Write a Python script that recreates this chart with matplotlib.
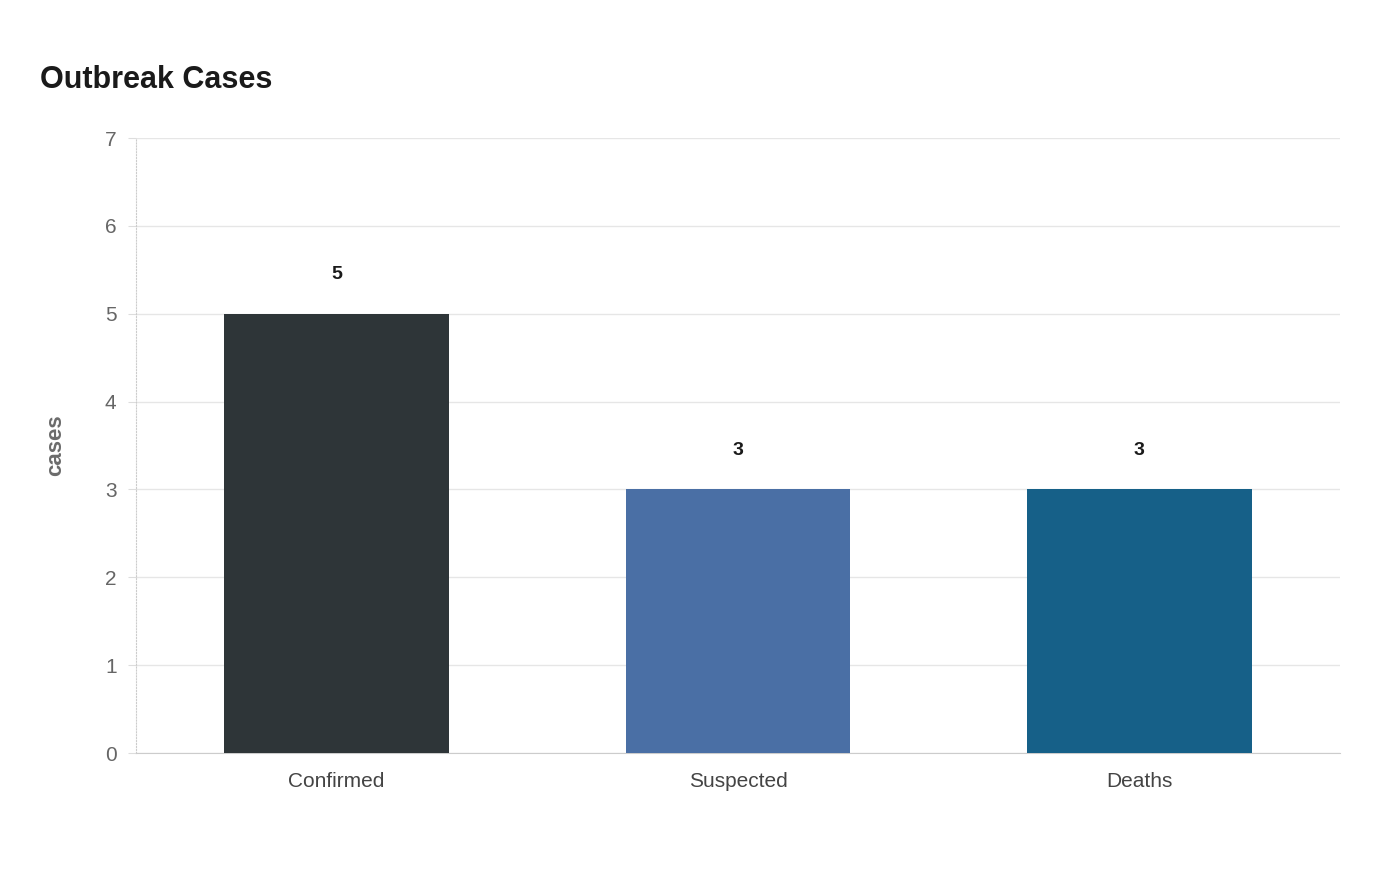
import matplotlib
matplotlib.use('Agg')
import matplotlib.pyplot as plt

# data
categories = ["Confirmed", "Suspected", "Deaths"]
cases = [5, 3, 3]
bar_colors = ["#2e3538", "#4a6fa5", "#166088"]
y_ticks = [0, 1, 2, 3, 4, 5, 6, 7]

plt.rcParams['font.family'] = ['Liberation Sans', 'DejaVu Sans']

fig = plt.figure(figsize=(14, 8.8), dpi=100)
ax = fig.add_axes([136 / 1400, 1 - 753 / 880, 1204 / 1400, 615 / 880])

x = list(range(len(categories)))
ax.bar(x, cases, width=0.56, color=bar_colors, zorder=3)
for xi, v in zip(x, cases):
    ax.annotate(str(v), (xi, v), xytext=(0, 22), textcoords='offset points',
                ha='center', va='bottom', fontsize=14, fontweight='bold', color='#1a1a1a')

ax.set_xlim(-0.5, 2.5)
ax.set_ylim(0, 7)
ax.set_yticks(y_ticks)
ax.set_xticks(x)
ax.set_xticklabels(categories)
ax.tick_params(axis='x', length=0, pad=14, labelsize=15, labelcolor='#444444')
ax.tick_params(axis='y', length=6, color='#dddddd', pad=8, labelsize=15, labelcolor='#666666')
ax.grid(axis='y', color='#e6e6e6', linewidth=1, zorder=0)

for s in ['top', 'right']:
    ax.spines[s].set_visible(False)
ax.spines['left'].set_color('#cccccc')
ax.spines['left'].set_linestyle(':')
ax.spines['bottom'].set_color('#cccccc')

ax.set_ylabel("cases", fontsize=16, fontweight='bold', color='#6b6b6b', labelpad=28)
fig.text(40 / 1400, 1 - 80 / 880, "Outbreak Cases", fontsize=22, fontweight='bold',
         color='#1a1a1a', va='center', ha='left')

fig.savefig("out.png", dpi=100)
